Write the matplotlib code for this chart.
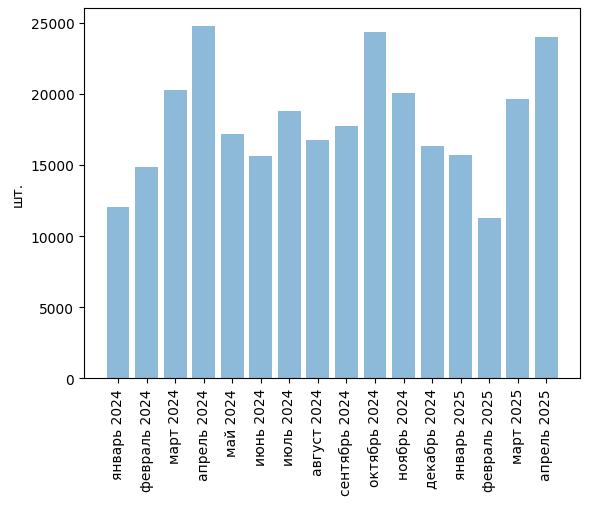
import matplotlib
matplotlib.use("Agg")
import matplotlib.pyplot as plt

months = ["январь 2024", "февраль 2024", "март 2024", "апрель 2024", "май 2024",
          "июнь 2024", "июль 2024", "август 2024", "сентябрь 2024", "октябрь 2024",
          "ноябрь 2024", "декабрь 2024", "январь 2025", "февраль 2025", "март 2025",
          "апрель 2025"]
values = [12060, 14880, 20300, 24770, 17200, 15660, 18820, 16780, 17770, 24340,
          20020, 16360, 15720, 11290, 19600, 23990]

fig = plt.figure(figsize=(5.89, 5.06), dpi=100)
ax = fig.add_axes([84/589, 1 - 379.3/506, (580.3-84)/589, (379.3-9.3)/506])
ax.bar(months, values, alpha=0.5)
ax.set_ylabel("шт.")
ax.tick_params(axis="x", rotation=90)
fig.savefig("out.png", dpi=100)
